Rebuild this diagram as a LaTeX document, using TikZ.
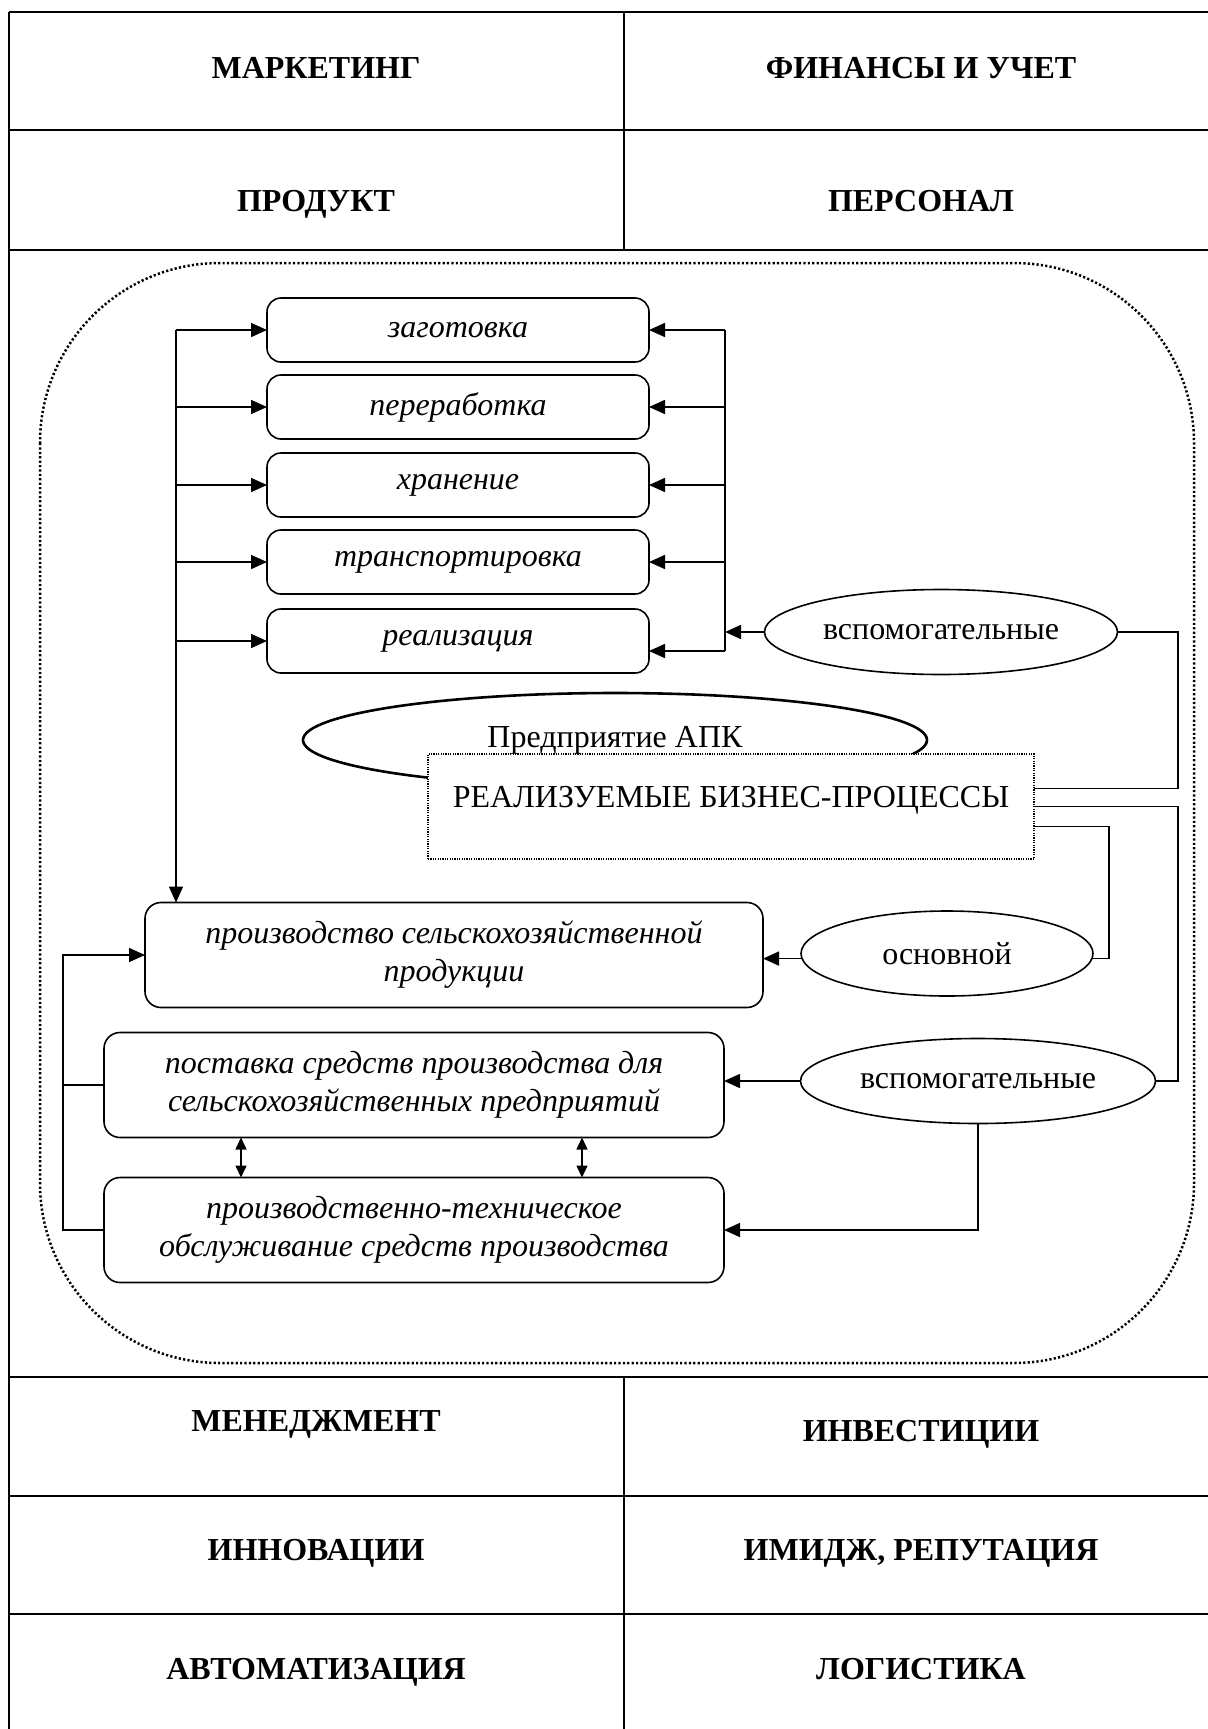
\documentclass[tikz,border=0pt]{standalone}
\usepackage{fontspec}
\setmainfont{Liberation Serif}
\usetikzlibrary{shapes.geometric,arrows.meta,calc}
\begin{document}
\begin{tikzpicture}[x=0.5pt,y=-0.5pt,
  every node/.style={inner sep=0pt, outer sep=0pt},
  head/.style={font=\fontsize{16}{19}\selectfont\bfseries, anchor=base},
  rule/.style={line width=1.1pt},
  thinrule/.style={line width=0.6pt},
  pbox/.style={draw, line width=0.8pt, rounded corners=7pt, fill=white,
    font=\fontsize{16}{19}\selectfont\itshape, align=center},
  oval/.style={ellipse, draw, line width=0.8pt, fill=white,
    font=\fontsize{16}{19}\selectfont},
  conn/.style={line width=0.8pt},
  arr/.style={conn, -{Triangle[length=8pt,width=7pt]}},
  darr/.style={conn, {Triangle[length=6pt,width=5.5pt]}-{Triangle[length=6pt,width=5.5pt]}},
]
\useasboundingbox (0,0) rectangle (1208,1729);

% table rules
\foreach \yy in {12,130,250,1377,1496,1614}
  \draw[rule] (9,\yy) -- (1208,\yy);
\draw[rule] (9,12) -- (9,1729);
\draw[thinrule] (624,12) -- (624,250);
\draw[thinrule] (624,1377) -- (624,1729);

% table headings
\node[head] (mkt) at (316,78) {МАРКЕТИНГ};
\node[head] (fin) at (921,78) {ФИНАНСЫ И УЧЕТ};
\node[head] (prd) at (316,211) {ПРОДУКТ};
\node[head] (per) at (921,211) {ПЕРСОНАЛ};
\node[head] (mgm) at (316,1431) {МЕНЕДЖМЕНТ};
\node[head] (inv) at (921,1441) {ИНВЕСТИЦИИ};
\node[head] (inn) at (316,1560) {ИННОВАЦИИ};
\node[head] (img) at (921,1560) {ИМИДЖ, РЕПУТАЦИЯ};
\node[head] (aut) at (316,1679) {АВТОМАТИЗАЦИЯ};
\node[head] (lgs) at (921,1679) {ЛОГИСТИКА};

% enterprise frame
\draw[line width=1.25pt, dash pattern=on 1.1pt off 1.1pt, rounded corners=90pt]
  (40,263) rectangle (1194,1363);

% business process stages
\node[pbox, minimum width=191pt, minimum height=32pt] (b1) at (458,330) {заготовка};
\node[pbox, minimum width=191pt, minimum height=32pt] (b2) at (458,407) {переработка};
\node[pbox, minimum width=191pt, minimum height=32pt] (b3) at (458,485) {хранение};
\node[pbox, minimum width=191pt, minimum height=32pt] (b4) at (458,562) {транспортировка};
\node[pbox, minimum width=191pt, minimum height=32pt] (b5) at (458,641) {реализация};

% enterprise label and processes box
\node[oval, line width=1.3pt, minimum width=312pt, minimum height=47pt] (apk) at (615,740) {Предприятие АПК};
\node[draw, fill=white, line width=0.6pt, dash pattern=on 0.6pt off 0.6pt,
  minimum width=303pt, minimum height=52.5pt, text height=11pt, text depth=10pt,
  font=\fontsize{16}{19}\selectfont] (bp) at (731,806.5) {РЕАЛИЗУЕМЫЕ БИЗНЕС-ПРОЦЕССЫ};

% process kinds
\node[oval, minimum width=176.5pt, minimum height=42.5pt] (aux1) at (941,632) {вспомогательные};
\node[oval, minimum width=146pt, minimum height=42.5pt] (main) at (947,953.5) {основной};
\node[oval, minimum width=177.5pt, minimum height=42.5pt] (aux2) at (978,1081) {вспомогательные};

% production boxes
\node[pbox, rounded corners=8pt, minimum width=309pt, minimum height=52.5pt] (prod) at (454,955)
  {производство сельскохозяйственной\\продукции};
\node[pbox, rounded corners=8pt, minimum width=310pt, minimum height=52.5pt] (sup) at (414,1085)
  {поставка средств производства для\\сельскохозяйственных предприятий};
\node[pbox, rounded corners=8pt, minimum width=310pt, minimum height=52.5pt] (pto) at (414,1230)
  {производственно-техническое\\обслуживание средств производства};

% rails
\coordinate (lbus) at (176,0);
\coordinate (rbus) at (725,0);
\coordinate (erail) at (1178,0);
\coordinate (mrail) at (1109,0);
\coordinate (lrail) at (63,0);
\coordinate (dA) at (241,0);
\coordinate (dB) at (582,0);
\coordinate (r5) at ([yshift=-5pt]b5.east);
\coordinate (bpHi) at ([yshift=9pt]bp.east);
\coordinate (bpLo) at ([yshift=-10pt]bp.east);

% connectors
\draw[arr] (lbus |- b1.west) -- (lbus |- prod.north);
\foreach \bx in {b1,b2,b3,b4,b5}
  \draw[arr] (lbus |- \bx.west) -- (\bx.west);
\draw[conn] (rbus |- b1.east) -- (rbus |- r5);
\foreach \bx in {b1,b2,b3,b4}
  \draw[arr] (rbus |- \bx.east) -- (\bx.east);
\draw[arr] (rbus |- r5) -- (r5);
\draw[arr] (aux1.west) -- (rbus |- aux1.west);
\draw[conn] (aux1.east) -- (erail |- aux1.east) -- (erail |- bpHi) -- (bpHi);
\draw[conn] (bp.east) -- (erail |- bp.east) -- (erail |- aux2.east) -- (aux2.east);
\draw[conn] (bpLo) -- (mrail |- bpLo) -- (mrail |- main.358) -- (main.358);
\draw[arr] (main.182) -- (main.182 -| prod.east);
\draw[arr] (aux2.west) -- (aux2.west -| sup.east);
\draw[arr] (aux2.south) -- (aux2.south |- pto.east) -- (pto.east);
\draw[conn] (sup.west) -- (lrail |- sup.west);
\draw[arr] (pto.west) -- (lrail |- pto.west) -- (lrail |- prod.west) -- (prod.west);
\draw[darr] (dA |- sup.south) -- (dA |- pto.north);
\draw[darr] (dB |- sup.south) -- (dB |- pto.north);
\end{tikzpicture}
\end{document}
